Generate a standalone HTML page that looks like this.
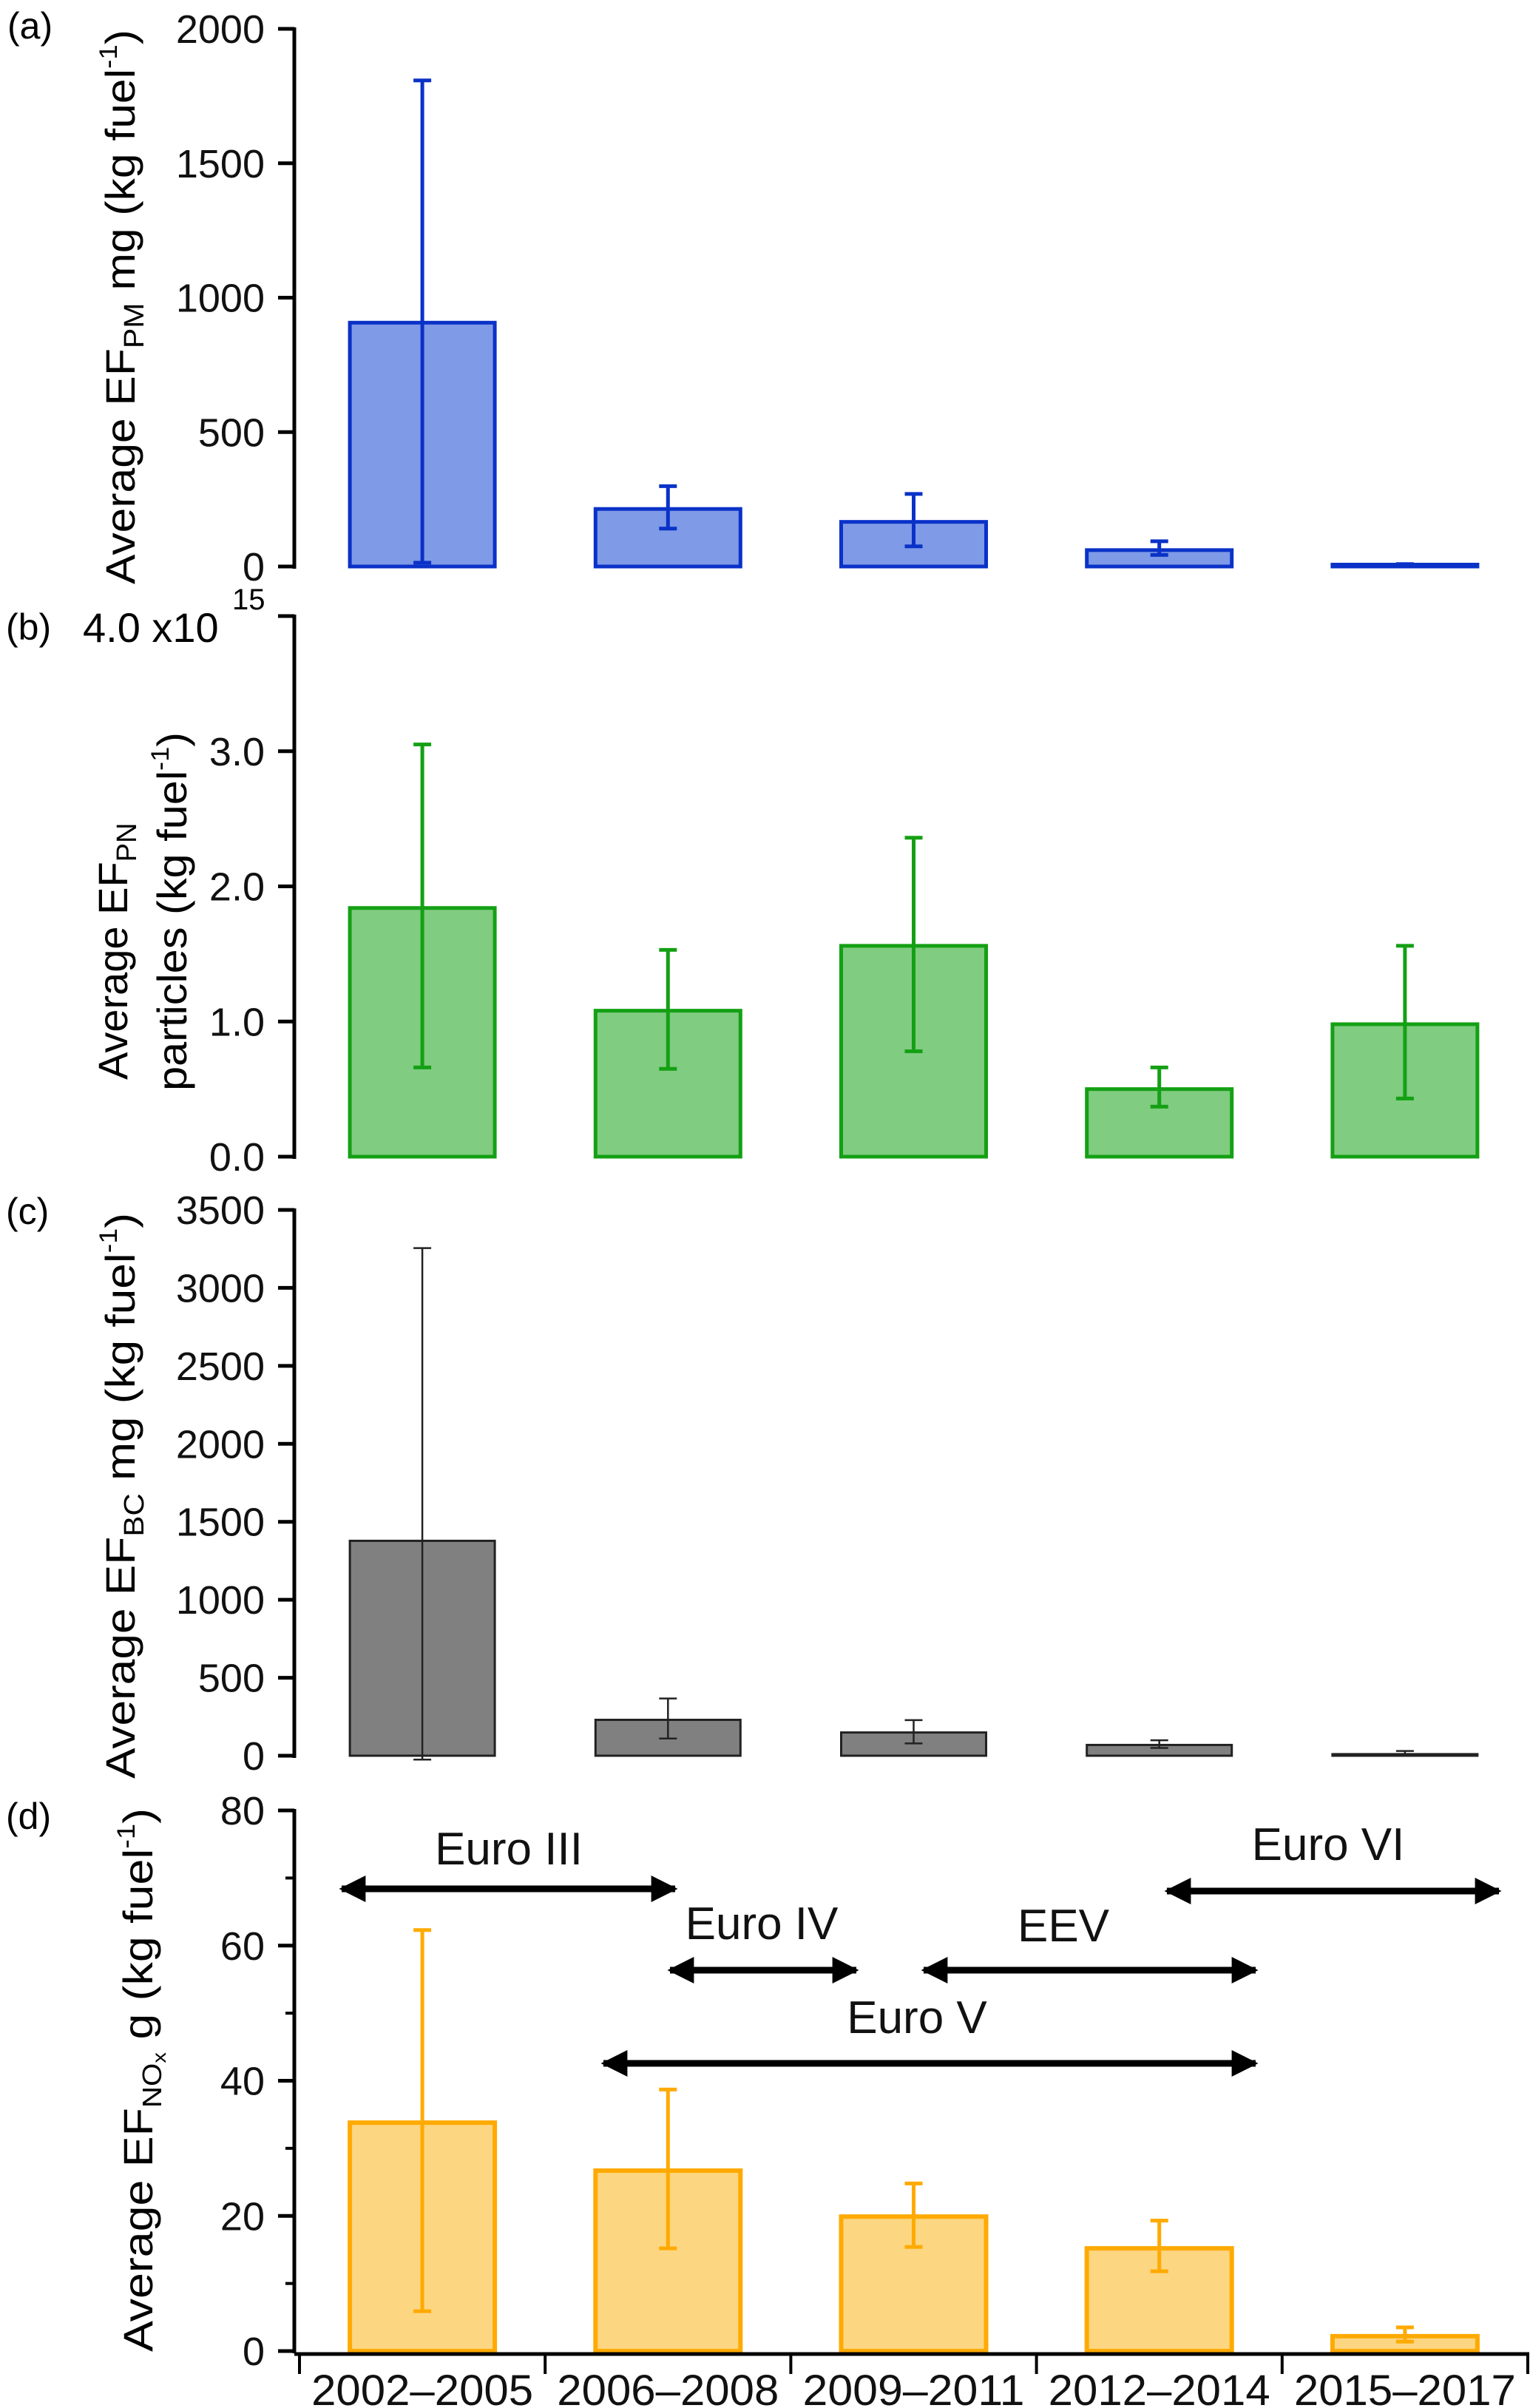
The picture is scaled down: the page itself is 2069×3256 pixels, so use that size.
<!DOCTYPE html>
<html><head><meta charset="utf-8"><style>
html,body{margin:0;padding:0;background:#fff}
svg{display:block;font-family:"Liberation Sans",sans-serif}
</style></head><body>
<svg id="chart" width="2069" height="3256" viewBox="0 0 2069 3256" xmlns="http://www.w3.org/2000/svg">
<rect width="2069" height="3256" fill="#fff"/>
<g id="root"></g>
</svg>
<script>
const categories = ["2002–2005","2006–2008","2009–2011","2012–2014","2015–2017"];
const pmValues = [907, 214, 166, 61, 7];
const pmErrHigh = [1808, 299, 270, 94, 9];
const pmErrLow = [14, 141, 75, 43, 5];
const pnValues = [1.84, 1.08, 1.56, 0.50, 0.98];
const pnErrHigh = [3.05, 1.53, 2.36, 0.66, 1.56];
const pnErrLow = [0.66, 0.65, 0.78, 0.37, 0.43];
const bcValues = [1378, 230, 149, 69, 10];
const bcErrHigh = [3255, 367, 228, 99, 30];
const bcErrLow = [-25, 110, 79, 50, 0];
const noxValues = [33.8, 26.7, 19.9, 15.2, 2.2];
const noxErrHigh = [62.3, 38.7, 24.8, 19.3, 3.5];
const noxErrLow = [5.9, 15.2, 15.4, 11.8, 1.4];
const pmTicks = [0, 500, 1000, 1500, 2000];
const pnTicks = [0, 1, 2, 3, 4];
const pnTickLabels = ["0.0","1.0","2.0","3.0",""];
const bcTicks = [0, 500, 1000, 1500, 2000, 2500, 3000, 3500];
const noxTicks = [0, 20, 40, 60, 80];
const noxMinor = [10, 30, 50, 70];

const NS = "http://www.w3.org/2000/svg";
const root = document.getElementById("root");
function el(tag, attrs, parent, text){
  const e = document.createElementNS(NS, tag);
  for (const k in attrs) e.setAttribute(k, attrs[k]);
  if (text !== undefined) e.textContent = text;
  (parent || root).appendChild(e);
  return e;
}
const AX = 398, X0 = 405, X1 = 2066;
const catW = (X1 - X0) / categories.length;
function xCenter(i){ return X0 + catW * (i + 0.5); }
const BW = 196;

function panel(name, y0px, y1px, vmax, ticks, tickLabels, vals, hi, lo, stroke, fill, sw, errW, minor){
  const g = el("g", {});
  
  
  const yS = v => y0px - (v / vmax) * (y0px - y1px);
  const ax = el("line", {x1:AX, y1:y1px-2, x2:AX, y2:y0px+3, stroke:"#000","stroke-width":5}, g);
  
  
  ticks.forEach((t, i) => {
    const y = yS(t);
    el("line", {x1:AX-22, y1:y, x2:AX, y2:y, stroke:"#000","stroke-width":5}, g);
    const lab = tickLabels ? tickLabels[i] : String(t);
    if (lab) {
      const tx = el("text", {x:358, y:y+19, "text-anchor":"end","font-size":54, fill:"#111"}, g, lab);
      
      
    }
  });
  (minor || []).forEach(t => {
    const y = yS(t);
    el("line", {x1:AX-12, y1:y, x2:AX, y2:y, stroke:"#000","stroke-width":4}, g);
  });
  vals.forEach((v, i) => {
    const cx = xCenter(i);
    const top = yS(v), base = yS(0);
    const r = el("rect", {x:cx-BW/2, y:top, width:BW, height:Math.max(base-top, 1), fill:fill, stroke:stroke, "stroke-width":sw}, g);
    
    
    const yh = yS(hi[i]), yl = yS(lo[i]);
    const e = el("g", {stroke:stroke, "stroke-width":errW}, g);
    
    
    el("line", {x1:cx, y1:yh, x2:cx, y2:yl}, e);
    el("line", {x1:cx-12, y1:yh, x2:cx+12, y2:yh}, e);
    el("line", {x1:cx-12, y1:yl, x2:cx+12, y2:yl}, e);
  });
  return g;
}

panel("pm", 766, 39, 2000, pmTicks, null, pmValues, pmErrHigh, pmErrLow, "#0a32c8", "#7f9ae6", 5, 5);
panel("pn", 1564, 833, 4, pnTicks, pnTickLabels, pnValues, pnErrHigh, pnErrLow, "#14a014", "#80cc80", 5, 5);
panel("bc", 2374, 1636, 3500, bcTicks, null, bcValues, bcErrHigh, bcErrLow, "#222", "#808080", 3, 2.5);
panel("nox", 3179, 2448, 80, noxTicks, null, noxValues, noxErrHigh, noxErrLow, "#ffaa00", "#fdd682", 6, 5, noxMinor);

const xa = el("line", {x1:AX, y1:3183, x2:X1+2, y2:3183, stroke:"#000","stroke-width":5});


for (let i = 0; i <= categories.length; i++) {
  el("line", {x1:X0+catW*i, y1:3183, x2:X0+catW*i, y2:3210, stroke:"#000","stroke-width":4});
}
categories.forEach((c, i) => {
  const t = el("text", {x:xCenter(i), y:3252, "text-anchor":"middle","font-size":58, fill:"#111", textLength:300, lengthAdjust:"spacingAndGlyphs"}, root, c);
  
  
});
</script>

<svg width="2069" height="3256" style="position:absolute;left:0;top:0" xmlns="http://www.w3.org/2000/svg" font-family="Liberation Sans, sans-serif">
  <defs>
    <marker id="ah" viewBox="0 0 10 10" refX="9" refY="5" markerWidth="4" markerHeight="4" orient="auto-start-reverse"><path d="M0,0 L10,5 L0,10 z" fill="#000"/></marker>
  </defs>
  <text x="10" y="52" font-size="50">(a)</text>
  <text x="8" y="865" font-size="50">(b)</text>
  <text x="8" y="1655" font-size="50">(c)</text>
  <text x="8" y="2473" font-size="50">(d)</text>
  <text x="112" y="868" font-size="56">4.0 x10</text>
  <text x="314" y="824" font-size="40">15</text>

  <text transform="translate(182,790) rotate(-90)" font-size="56" textLength="750" lengthAdjust="spacingAndGlyphs">Average EF<tspan font-size="38" dy="12">PM</tspan><tspan dy="-12"> mg (kg fuel</tspan><tspan font-size="34" dy="-24">-1</tspan><tspan dy="24">)</tspan></text>
  <text transform="translate(172,1460) rotate(-90)" font-size="56">Average EF<tspan font-size="38" dy="12">PN</tspan></text>
  <text transform="translate(252,1475) rotate(-90)" font-size="56" textLength="485" lengthAdjust="spacingAndGlyphs">particles (kg fuel<tspan font-size="34" dy="-24">-1</tspan><tspan dy="24">)</tspan></text>
  <text transform="translate(182,2405) rotate(-90)" font-size="56" textLength="765" lengthAdjust="spacingAndGlyphs">Average EF<tspan font-size="38" dy="12">BC</tspan><tspan dy="-12"> mg (kg fuel</tspan><tspan font-size="34" dy="-24">-1</tspan><tspan dy="24">)</tspan></text>
  <text transform="translate(206,3180) rotate(-90)" font-size="56" textLength="735" lengthAdjust="spacingAndGlyphs">Average EF<tspan font-size="36" dy="12">NO</tspan><tspan font-size="26" dy="6">x</tspan><tspan dy="-18"> g (kg fuel</tspan><tspan font-size="34" dy="-24">-1</tspan><tspan dy="24">)</tspan></text>

  <g stroke="#000" stroke-width="9" marker-start="url(#ah)" marker-end="url(#ah)">
    <line x1="462" y1="2554" x2="913" y2="2554"/>
    <line x1="906" y1="2664" x2="1158" y2="2664"/>
    <line x1="1249" y1="2664" x2="1698" y2="2664"/>
    <line x1="816" y1="2790" x2="1698" y2="2790"/>
    <line x1="1578" y1="2557" x2="2027" y2="2557"/>
  </g>
  <g font-size="62" text-anchor="middle" fill="#111">
    <text x="688" y="2521">Euro III</text>
    <text x="1030" y="2622">Euro IV</text>
    <text x="1438" y="2625">EEV</text>
    <text x="1240" y="2749">Euro V</text>
    <text x="1796" y="2515">Euro VI</text>
  </g>
</svg>
</body></html>
